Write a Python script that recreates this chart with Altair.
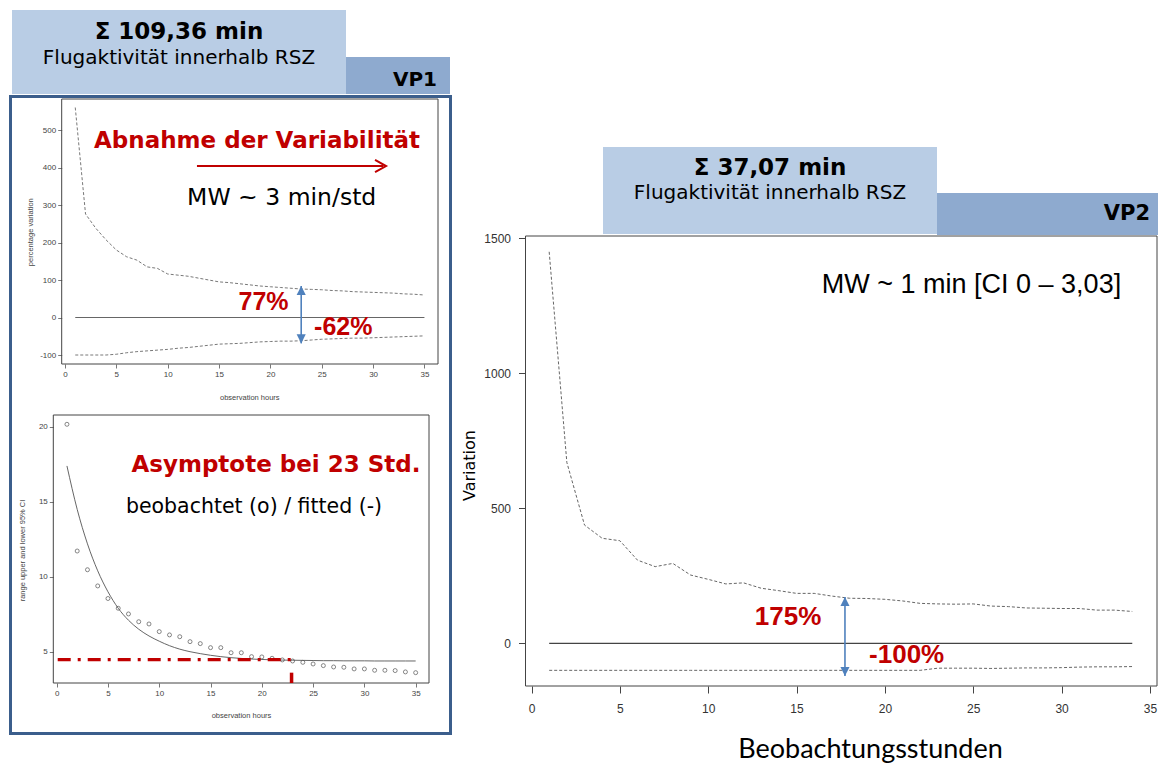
import altair as alt
import pandas as pd

W, H = 1150, 755

# ---------------- data ----------------
vp1_hours = list(range(1, 36))
vp1_upper = [560, 276, 238, 207, 180, 162, 153, 135, 131, 116, 113, 110, 105, 100, 95, 93, 90, 87,
             84, 82, 80, 78, 76, 75, 74, 72, 71, 69, 68, 67, 66, 65, 63, 62, 60]
vp1_lower = [-100, -100, -100, -100, -98, -94, -91, -89, -87, -85, -82, -80, -77, -74, -71, -70,
             -69, -67, -65, -64, -63, -63, -62, -60, -58, -57, -56, -55, -55, -54, -53, -52, -51, -50, -49]

asym_hours = list(range(1, 36))
asym_observed = [20.18, 11.72, 10.47, 9.39, 8.55, 7.9, 7.52, 7.0, 6.85, 6.34, 6.12, 6.0, 5.67, 5.54,
                 5.27, 5.27, 4.93, 4.93, 4.67, 4.65, 4.56, 4.45, 4.38, 4.29, 4.18, 4.07, 3.98, 3.96,
                 3.85, 3.85, 3.76, 3.76, 3.74, 3.65, 3.6]
asym_fitted = [17.4, 14.5, 12.2, 10.4, 9.0, 7.9, 7.1, 6.5, 6.05, 5.7, 5.4, 5.17, 5.0, 4.87, 4.76,
               4.67, 4.6, 4.55, 4.51, 4.48, 4.46, 4.44, 4.43, 4.42, 4.41, 4.40, 4.40, 4.39, 4.39,
               4.39, 4.38, 4.38, 4.38, 4.38, 4.38]
asym_level = 4.47
asym_hour = 22.9

vp2_hours = list(range(1, 35))
vp2_upper = [1450, 670, 438, 389, 380, 308, 284, 296, 253, 237, 220, 224, 204, 195, 185, 185, 175,
             167, 166, 163, 157, 148, 146, 145, 146, 138, 136, 131, 130, 129, 129, 123, 123, 118]
vp2_lower = [-100] * 22 + [-92, -92, -92, -93, -92, -91, -91, -90, -88, -87, -87, -86]

x_ticks = [0, 5, 10, 15, 20, 25, 30, 35]
vp1_y_ticks = [-100, 0, 100, 200, 300, 400, 500]
asym_y_ticks = [5, 10, 15, 20]
vp2_y_ticks = [0, 500, 1000, 1500]

vp1_arrow = {"h": 23.0, "top": 84, "bottom": -69}
vp2_arrow = {"h": 17.74, "top": 172, "bottom": -121}

RED = "#c00000"
BLUE = "#4f81bd"
GRAY = "#555555"
LIGHT = "#b9cde5"
DARK = "#8eaacf"
FRAME = "#3b5e8c"

UP_HEAD = "M0,0L-0.6,1.2L0.6,1.2Z"
DOWN_HEAD = "M0,0L-0.6,-1.2L0.6,-1.2Z"
RIGHT_HEAD = "M-1,-0.55L0,0L-1,0.55"
PLAIN_LABEL = "'' + datum.value"


def small_axis(orient, values, offset, title, tx, ty):
    return alt.Axis(orient=orient, values=values, offset=offset, title=title, titleX=tx, titleY=ty,
                    domain=False, grid=False, labelFont="Liberation Sans", labelFontSize=8,
                    labelColor="#444", tickColor="#555", tickSize=4, tickWidth=0.8,
                    labelPadding=2, labelFlush=False, labelOverlap=False, labelExpr=PLAIN_LABEL,
                    titleFont="Liberation Sans", titleFontSize=7.5, titleFontWeight="normal",
                    titleColor="#444", titleAlign="center", titleBaseline="middle")


class Panel:
    def __init__(self, xs, ys, xax, yax):
        self.xs, self.ys, self.xax, self.yax = xs, ys, xax, yax

    def enc(self, xf="h", yf="v"):
        return dict(x=alt.X(f"{xf}:Q", scale=self.xs, axis=self.xax),
                    y=alt.Y(f"{yf}:Q", scale=self.ys, axis=self.yax))

    def box(self, xd, yd):
        df = pd.DataFrame({"h": [xd[0]], "h2": [xd[1]], "v": [yd[0]], "v2": [yd[1]]})
        return alt.Chart(df).mark_rect(fill="transparent", stroke="#444", strokeWidth=1).encode(
            x2="h2:Q", y2="v2:Q", **self.enc())

    def text(self, h, v, t, **mk):
        df = pd.DataFrame({"h": [h], "v": [v], "t": [t]})
        return alt.Chart(df).mark_text(baseline="middle", **mk).encode(text="t:N", **self.enc())

    def line(self, hs, vs, **mk):
        return alt.Chart(pd.DataFrame({"h": hs, "v": vs})).mark_line(**mk).encode(**self.enc())

    def point(self, hs, vs, **mk):
        return alt.Chart(pd.DataFrame({"h": hs, "v": vs})).mark_point(**mk).encode(**self.enc())

    def vrule(self, h, v, v2, **mk):
        df = pd.DataFrame({"h": [h], "v": [v], "v2": [v2]})
        return alt.Chart(df).mark_rule(**mk).encode(y2="v2:Q", **self.enc())

    def double_arrow(self, arrow):
        return [
            self.vrule(arrow["h"], arrow["top"], arrow["bottom"], color=BLUE, strokeWidth=1.6),
            self.point([arrow["h"]], [arrow["top"]], shape=UP_HEAD, size=230, filled=True,
                       color=BLUE, opacity=1),
            self.point([arrow["h"]], [arrow["bottom"]], shape=DOWN_HEAD, size=230, filled=True,
                       color=BLUE, opacity=1),
        ]


# ---------------- panel VP1 top: percentage variation ----------------
tl_xd = [-0.32, 36.32]
tl_yd = [-124, 582.7]
tl = Panel(
    alt.Scale(domain=tl_xd, range=[53.7, 430.0], nice=False, zero=False),
    alt.Scale(domain=tl_yd, range=[356.0, 91.0], nice=False, zero=False),
    small_axis("bottom", x_ticks, 356 - H, "observation hours", 241.3, 33.3),
    small_axis("left", vp1_y_ticks, -53.7, "percentage variation", -31.0, 223.7),
)
tl_lines = pd.DataFrame({"h": vp1_hours * 2, "v": vp1_upper + vp1_lower,
                         "s": ["upper"] * len(vp1_hours) + ["lower"] * len(vp1_hours)})
tl_chart = alt.layer(
    alt.Chart(tl_lines).mark_line(color=GRAY, strokeWidth=0.8, strokeDash=[3, 2]).encode(
        detail="s:N", **tl.enc()),
    tl.box(tl_xd, tl_yd),
    tl.line([vp1_hours[0], vp1_hours[-1]], [0, 0], color="#666", strokeWidth=1),
    *tl.double_arrow(vp1_arrow),
    tl.line([12.85, 31.0], [404, 404], color=RED, strokeWidth=2),
    tl.point([31.26], [404], shape=RIGHT_HEAD, size=484, filled=False, color=RED,
             strokeWidth=2, opacity=1),
    tl.text(18.7, 470.7, "Abnahme der Variabilität", font="DejaVu Sans", fontSize=23,
            fontWeight="bold", color=RED),
    tl.text(21.1, 318.7, "MW ~ 3 min/std", font="DejaVu Sans", fontSize=23.5, color="#000"),
    tl.text(19.33, 42.1, "77%", font="Liberation Sans", fontSize=25, fontWeight="bold", color=RED),
    tl.text(27.1, -24.5, "-62%", font="Liberation Sans", fontSize=25, fontWeight="bold", color=RED),
)

# ---------------- panel VP1 bottom: asymptote ----------------
bl_xd = [-0.33, 36.3]
bl_yd = [2.91, 20.8]
bl = Panel(
    alt.Scale(domain=bl_xd, range=[45.3, 421.0], nice=False, zero=False),
    alt.Scale(domain=bl_yd, range=[675.0, 407.0], nice=False, zero=False),
    small_axis("bottom", x_ticks, 675 - H, "observation hours", 233.0, 32.0),
    small_axis("left", asym_y_ticks, -45.3, "range upper and lower 95% CI", -30.6, 542.0),
)
bl_chart = alt.layer(
    bl.point(asym_hours, asym_observed, shape="circle", size=16, filled=False, color=GRAY,
             strokeWidth=0.7, opacity=1),
    bl.box(bl_xd, bl_yd),
    bl.line(asym_hours, asym_fitted, color=GRAY, strokeWidth=0.9, interpolate="monotone"),
    bl.line([0.1, asym_hour], [asym_level, asym_level], color=RED, strokeWidth=3.2,
            strokeDash=[13, 7, 3, 7]),
    bl.vrule(asym_hour, 3.6, bl_yd[0], color=RED, strokeWidth=3.5),
    bl.text(21.38, 17.46, "Asymptote bei 23 Std.", font="DejaVu Sans", fontSize=23,
            fontWeight="bold", color=RED),
    bl.text(19.24, 14.68, "beobachtet (o) / fitted (-)", font="DejaVu Sans", fontSize=20.5,
            color="#000"),
)

# ---------------- panel VP2 ----------------
r_xd = [-0.34, 35.40]
r_yd = [-158, 1508.5]
r_common = dict(domain=False, grid=False, labelFont="Liberation Sans", labelFontSize=12,
                labelColor="#333", tickColor="#444", tickSize=7, tickWidth=1,
                labelFlush=False, labelOverlap=False, labelExpr=PLAIN_LABEL,
                titleFontWeight="normal", titleColor="#000", titleAlign="center")
rp = Panel(
    alt.Scale(domain=r_xd, range=[517.5, 1149.0], nice=False, zero=False),
    alt.Scale(domain=r_yd, range=[678.0, 228.0], nice=False, zero=False),
    alt.Axis(orient="bottom", values=x_ticks, offset=678 - H, title="Beobachtungsstunden",
             titleX=862.0, titleY=71.0, titleBaseline="alphabetic", titleFont="Lato",
             titleFontSize=27, labelPadding=10, **r_common),
    alt.Axis(orient="left", values=vp2_y_ticks, offset=-517.5, title="Variation", titleX=-56.5,
             titleY=457.0, titleBaseline="middle", titleFont="DejaVu Sans", titleFontSize=16,
             labelPadding=8, **r_common),
)
r_lines = pd.DataFrame({"h": vp2_hours * 2, "v": vp2_upper + vp2_lower,
                        "s": ["upper"] * len(vp2_hours) + ["lower"] * len(vp2_hours)})
r_chart = alt.layer(
    alt.Chart(r_lines).mark_line(color=GRAY, strokeWidth=0.9, strokeDash=[3, 2]).encode(
        detail="s:N", **rp.enc()),
    rp.box(r_xd, r_yd),
    rp.line([vp2_hours[0], vp2_hours[-1]], [0, 0], color="#444", strokeWidth=1.1),
    *rp.double_arrow(vp2_arrow),
    rp.text(24.9, 1327, "MW ~ 1 min [CI 0 \u2013 3,03]", font="Liberation Sans", fontSize=27,
            color="#000"),
    rp.text(14.52, 98.5, "175%", font="Liberation Sans", fontSize=26, fontWeight="bold", color=RED),
    rp.text(21.23, -43.3, "-100%", font="Liberation Sans", fontSize=26, fontWeight="bold", color=RED),
)

# ---------------- decorations: header boxes, frame, header texts ----------------
one = pd.DataFrame({"a": [1]})


def deco_rect(x, x2, y, y2, **mk):
    return alt.Chart(one).mark_rect(**mk).encode(
        x=alt.value(x), x2=alt.value(x2), y=alt.value(y), y2=alt.value(y2))


def deco_text(x, y, t, **mk):
    return alt.Chart(pd.DataFrame({"t": [t]})).mark_text(baseline="middle", **mk).encode(
        x=alt.value(x), y=alt.value(y), text="t:N")


deco_back = [
    deco_rect(4, 338, 2, 86, color=LIGHT),
    deco_rect(338, 442, 49, 86, color=DARK),
    deco_rect(595, 929, 139, 226, color=LIGHT),
    deco_rect(929, 1150, 185, 227, color=DARK),
    deco_rect(2.5, 442.5, 88.5, 725.5, fill="transparent", stroke=FRAME, strokeWidth=3),
]
deco_front = [
    deco_text(171, 24, "\u03a3  109,36 min", font="DejaVu Sans", fontSize=23, fontWeight="bold",
              color="#000", align="center"),
    deco_text(171, 50, "Flugaktivit\u00e4t innerhalb RSZ", font="DejaVu Sans", fontSize=20,
              color="#000", align="center"),
    deco_text(429, 72, "VP1", font="DejaVu Sans", fontSize=20, fontWeight="bold",
              color="#000", align="right"),
    deco_text(762, 160, "\u03a3 37,07 min", font="DejaVu Sans", fontSize=23, fontWeight="bold",
              color="#000", align="center"),
    deco_text(762, 185, "Flugaktivit\u00e4t innerhalb RSZ", font="DejaVu Sans", fontSize=20,
              color="#000", align="center"),
    deco_text(1142, 206, "VP2", font="DejaVu Sans", fontSize=21, fontWeight="bold",
              color="#000", align="right"),
]

chart = alt.layer(*deco_back, tl_chart, bl_chart, r_chart, *deco_front).resolve_scale(
    x="independent", y="independent"
).properties(
    width=W, height=H, autosize=alt.AutoSizeParams(type="none"), padding=0, background="white"
).configure_view(strokeWidth=0)

chart.save("out.html", embed_options={"renderer": "svg", "actions": False})
